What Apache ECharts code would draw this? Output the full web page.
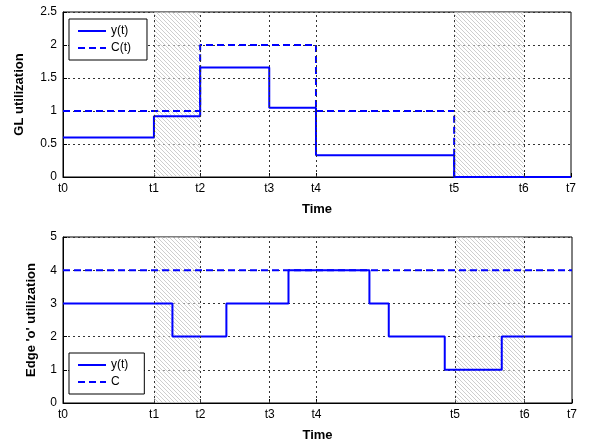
<!DOCTYPE html>
<html lang="en">

<head>
  <meta charset="utf-8">
  <title>GL / Edge utilization</title>
  <style>
    html, body { margin: 0; padding: 0; background: #fff; }
    .box { width: 591px; height: 446px; }
  </style>
</head>

<body>
  <script src="https://cdn.jsdelivr.net/npm/echarts@6/dist/echarts.min.js"></script>
  <div class="box"></div>

  <script>
    // time marks t0..t7 (relative position on the time axis)
    var tPos = [0, 1.79, 2.70, 4.06, 4.98, 7.70, 9.07, 10];
    // shaded intervals [t1,t2] and [t5,t6]
    var shaded = [[1.79, 2.70], [7.70, 9.07]];

    // top chart: GL utilization (change points, value holds until next point)
    var glY = [[0, 0.6], [1.79, 0.92], [2.70, 1.66], [4.06, 1.05], [4.98, 0.33], [7.70, 0], [10, 0]];
    var glC = [[0, 1], [2.70, 2], [4.98, 1], [7.70, 0], [10, 0]];

    // bottom chart: Edge 'o' utilization
    var edgeY = [[0, 3], [2.15, 2], [3.21, 3], [4.43, 4], [6.02, 3], [6.40, 2], [7.50, 1], [8.62, 2], [10, 2]];
    var edgeC = [[0, 4], [10, 4]];

    var blue = '#0000ff';
    var font = 'Liberation Sans, Arial, sans-serif';

    // hatch pattern for the shaded intervals
    var pat = document.createElement('canvas');
    pat.width = 4; pat.height = 4;
    var pc = pat.getContext('2d');
    pc.fillStyle = 'rgba(255,255,255,0.5)';
    pc.fillRect(0, 0, 4, 4);
    pc.strokeStyle = 'rgba(165,165,165,0.55)';
    pc.lineWidth = 1;
    pc.beginPath();
    pc.moveTo(-1, -1); pc.lineTo(5, 5);
    pc.moveTo(-1, 3); pc.lineTo(1, 5);
    pc.moveTo(3, -1); pc.lineTo(5, 1);
    pc.stroke();

    function xAxisCfg(gi) {
      return {
        gridIndex: gi,
        type: 'value',
        min: 0,
        max: 10,
        name: 'Time',
        nameLocation: 'middle',
        nameGap: 26,
        nameTextStyle: { fontFamily: font, fontWeight: 'bold', fontSize: 13, color: '#000' },
        axisLine: { show: true, lineStyle: { color: '#000' } },
        axisTick: { show: true, inside: true, length: 4, customValues: tPos, lineStyle: { color: '#000' } },
        axisLabel: {
          customValues: tPos,
          margin: 6,
          fontFamily: font, fontSize: 12, color: '#000',
          formatter: function (v) { return 't' + tPos.indexOf(v); }
        },
        splitLine: { show: false }
      };
    }

    function yAxisCfg(gi, name, max, interval, gap) {
      return {
        gridIndex: gi,
        type: 'value',
        min: 0,
        max: max,
        interval: interval,
        name: name,
        nameLocation: 'middle',
        nameGap: gap,
        nameTextStyle: { fontFamily: font, fontWeight: 'bold', fontSize: 13, color: '#000' },
        axisLine: { show: true, lineStyle: { color: '#000' } },
        axisTick: { show: true, inside: true, length: 4, lineStyle: { color: '#000' } },
        axisLabel: { margin: 6, fontFamily: font, fontSize: 12, color: '#000' },
        splitLine: { show: true, lineStyle: { color: '#333', type: [2, 3], width: 1 } }
      };
    }

    // vertical dotted grid lines at t1..t6
    function gridSeries(gi) {
      return {
        name: '_grid' + gi,
        type: 'line',
        xAxisIndex: gi, yAxisIndex: gi,
        data: [[0, 0]],
        symbol: 'none',
        lineStyle: { opacity: 0 },
        silent: true,
        z: 1,
        markLine: {
          silent: true,
          symbol: 'none',
          label: { show: false },
          lineStyle: { color: '#333', type: [2, 3], width: 1 },
          data: tPos.slice(1, 7).map(function (t) { return { xAxis: t }; })
        }
      };
    }

    // hatched areas drawn over the lines
    function hatchSeries(gi) {
      return {
        name: '_hatch' + gi,
        type: 'line',
        xAxisIndex: gi, yAxisIndex: gi,
        data: [[0, 0]],
        symbol: 'none',
        lineStyle: { opacity: 0 },
        silent: true,
        z: 5,
        markArea: {
          silent: true,
          itemStyle: { color: { image: pat, repeat: 'repeat' } },
          data: shaded.map(function (s) { return [{ xAxis: s[0] }, { xAxis: s[1] }]; })
        }
      };
    }

    function stepSeries(gi, name, data, dashed) {
      return {
        name: name,
        type: 'line',
        xAxisIndex: gi, yAxisIndex: gi,
        step: 'end',
        data: data,
        symbol: 'none',
        z: 3,
        lineStyle: { color: blue, width: 2, type: dashed ? [7, 4] : 'solid' },
        itemStyle: { color: blue }
      };
    }

    var legendBase = {
      orient: 'vertical',
      left: 69,
      backgroundColor: '#fff',
      borderColor: '#000',
      borderWidth: 1,
      borderRadius: 0,
      padding: [6, 16, 6, 8],
      itemGap: 5,
      itemWidth: 28,
      itemHeight: 12,
      itemStyle: { opacity: 0 },
      textStyle: { fontFamily: font, fontSize: 12, color: '#000' },
      z: 10
    };

    var myChart = echarts.init(document.querySelector('.box'));
    var option = {
      animation: false,
      backgroundColor: '#fff',
      grid: [
        { left: 63, right: 20, top: 12, height: 165, show: true, borderColor: '#000', borderWidth: 1, backgroundColor: 'transparent' },
        { left: 63, right: 19, top: 237, height: 166, show: true, borderColor: '#000', borderWidth: 1, backgroundColor: 'transparent' }
      ],
      legend: [
        Object.assign({}, legendBase, { top: 19, data: ['y(t)', 'C(t)'] }),
        Object.assign({}, legendBase, { top: 353, data: ['y(t)', 'C'] })
      ],
      xAxis: [xAxisCfg(0), xAxisCfg(1)],
      yAxis: [
        yAxisCfg(0, 'GL utilization', 2.5, 0.5, 37),
        yAxisCfg(1, "Edge 'o' utilization", 5, 1, 25)
      ],
      series: [
        gridSeries(0),
        gridSeries(1),
        stepSeries(0, 'y(t)', glY, false),
        stepSeries(0, 'C(t)', glC, true),
        stepSeries(1, 'y(t)', edgeY, false),
        stepSeries(1, 'C', edgeC, true),
        hatchSeries(0),
        hatchSeries(1)
      ]
    };
    myChart.setOption(option);
  </script>

</body>

</html>
